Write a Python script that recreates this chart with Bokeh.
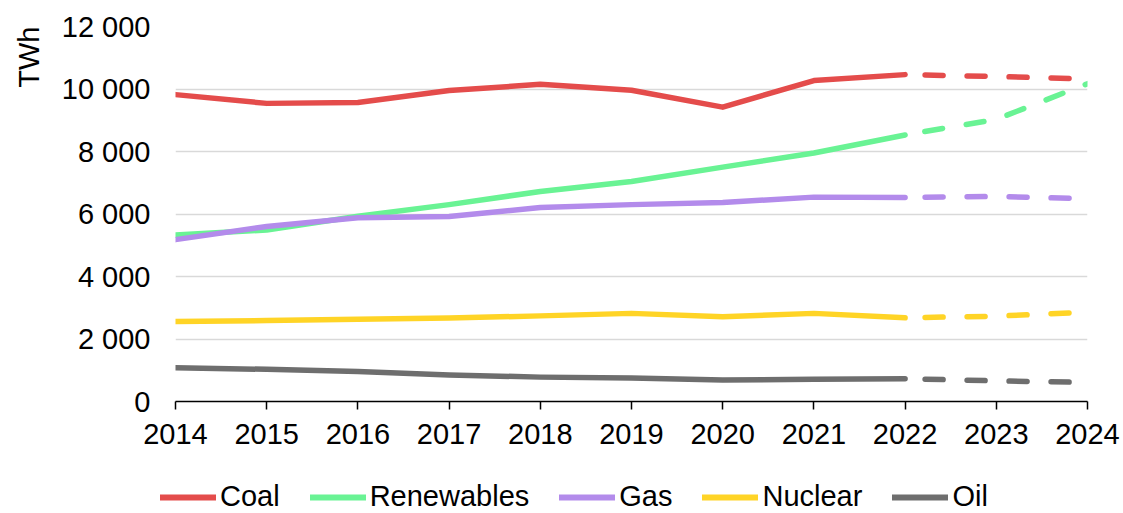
from bokeh.plotting import figure
from bokeh.layouts import column
from bokeh.models import (Legend, LegendItem, FixedTicker, Title, ColumnDataSource, Range1d)
from bokeh.embed import file_html
from bokeh.resources import INLINE

years = [2014, 2015, 2016, 2017, 2018, 2019, 2020, 2021, 2022, 2023, 2024]
coal = [9820, 9540, 9570, 9950, 10150, 9960, 9420, 10270, 10460, 10400, 10320]
renewables = [5330, 5490, 5930, 6300, 6720, 7040, 7500, 7950, 8530, 9030, 10170]
gas = [5180, 5600, 5880, 5920, 6210, 6300, 6370, 6540, 6530, 6560, 6490]
nuclear = [2560, 2590, 2630, 2670, 2740, 2820, 2710, 2820, 2680, 2730, 2860]
oil = [1080, 1030, 960, 850, 780, 750, 690, 710, 730, 660, 610]

series_names = ["Coal", "Renewables", "Gas", "Nuclear", "Oil"]
series_values = [coal, renewables, gas, nuclear, oil]
series_colors = ["#E44C4B", "#69F394", "#B38BEB", "#FFD426", "#6E6E6E"]
last_actual_year = 2022

y_ticks = [0, 2000, 4000, 6000, 8000, 10000, 12000]
y_tick_labels = ["0", "2 000", "4 000", "6 000", "8 000", "10 000", "12 000"]
unit_label = "TWh"

FONT = "Liberation Sans"
FS = "29px"

p = figure(width=1123, height=468, output_backend="svg", toolbar_location=None,
           x_range=Range1d(2014, 2024), y_range=Range1d(0, 12000),
           min_border_left=175, min_border_right=36, min_border_top=26,
           min_border_bottom=67)
p.frame_align = False
p.outline_line_color = None
p.background_fill_color = "white"

split = years.index(last_actual_year)
for name, vals, col in zip(series_names, series_values, series_colors):
    src_a = ColumnDataSource(dict(x=years[:split + 1], y=vals[:split + 1]))
    src_f = ColumnDataSource(dict(x=years[split:], y=vals[split:]))
    p.line("x", "y", source=src_a, line_color=col, line_width=5.5,
           line_cap="round", line_join="round")
    p.line("x", "y", source=src_f, line_color=col, line_width=5.5,
           line_cap="round", line_dash="18 24", line_dash_offset=22)

# axes
p.xaxis.ticker = FixedTicker(ticks=years)
p.xaxis.major_label_text_font = FONT
p.xaxis.major_label_text_font_size = FS
p.xaxis.major_label_text_color = "black"
p.xaxis.axis_line_color = "black"
p.xaxis.axis_line_width = 1.5
p.xaxis.major_tick_line_color = "black"
p.xaxis.major_tick_line_width = 1.5
p.xaxis.major_tick_out = 8
p.xaxis.major_tick_in = 0
p.xaxis.minor_tick_line_color = None
p.xaxis.major_label_standoff = 14

p.yaxis.ticker = FixedTicker(ticks=y_ticks)
p.yaxis.major_label_overrides = {t: l for t, l in zip(y_ticks, y_tick_labels)}
p.yaxis.major_label_text_font = FONT
p.yaxis.major_label_text_font_size = FS
p.yaxis.major_label_text_color = "black"
p.yaxis.axis_line_color = None
p.yaxis.major_tick_line_color = None
p.yaxis.minor_tick_line_color = None
p.yaxis.major_label_standoff = 19

p.xgrid.grid_line_color = None
p.ygrid.grid_line_color = "#D9D9D9"
p.ygrid.grid_line_width = 1.5

unit = Title(text=unit_label, align="right", vertical_align="top",
             text_font=FONT, text_font_size=FS, text_font_style="normal",
             text_color="black", standoff=24)
p.add_layout(unit, "left")

# legend strip below the chart (proxy lines lie outside the visible range)
lg = figure(width=1123, height=45, output_backend="svg", toolbar_location=None,
            x_range=Range1d(0, 1), y_range=Range1d(0, 1),
            x_axis_type=None, y_axis_type=None,
            min_border_left=0, min_border_right=0, min_border_top=0,
            min_border_bottom=0)
lg.frame_align = False
lg.outline_line_color = None
lg.xgrid.grid_line_color = None
lg.ygrid.grid_line_color = None
items = []
for name, col in zip(series_names, series_colors):
    r = lg.line(x=[-5, -4], y=[-5, -4], line_color=col, line_width=6,
                line_cap="round")
    items.append(LegendItem(label=name, renderers=[r]))
legend = Legend(items=items, orientation="horizontal", location=(160, 0),
                label_text_font=FONT, label_text_font_size=FS,
                label_text_color="black", glyph_width=56, glyph_height=24,
                label_standoff=4, spacing=30, padding=0, margin=0,
                border_line_color=None, background_fill_alpha=0)
lg.add_layout(legend, "center")

open("out.html", "w").write(file_html(column(p, lg), INLINE))
